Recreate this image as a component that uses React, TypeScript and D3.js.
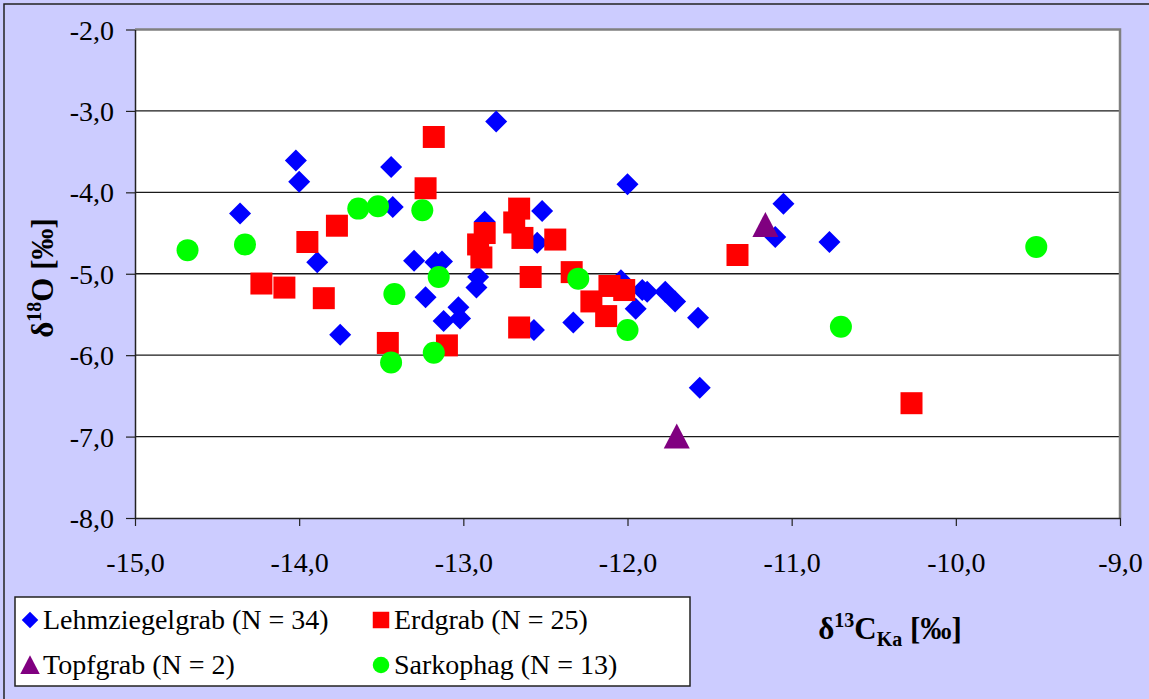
import React, { useEffect, useRef } from "react";
import * as d3 from "d3";

// δ13C (x), δ18O (y) per grave type
const lehmziegelgrab: [number, number][] = [
  [-14.36, -4.26], [-14.02, -3.61], [-14.0, -3.87], [-13.89, -4.86], [-13.75, -5.75],
  [-13.44, -3.69], [-13.43, -4.18], [-13.3, -4.84], [-13.23, -5.29], [-13.17, -4.86],
  [-13.13, -4.85], [-12.8, -3.13], [-12.0, -3.9], [-12.52, -4.23], [-12.87, -4.36],
  [-12.55, -4.62], [-12.91, -5.04], [-12.92, -5.17], [-13.03, -5.41], [-13.12, -5.58],
  [-13.02, -5.55], [-12.57, -5.69], [-12.33, -5.6], [-12.04, -5.08], [-11.95, -5.43],
  [-11.91, -5.2], [-11.88, -5.22], [-11.77, -5.22], [-11.71, -5.34], [-11.57, -5.54],
  [-11.56, -6.4], [-11.05, -4.14], [-11.1, -4.55], [-10.77, -4.61],
];
const erdgrab: [number, number][] = [
  [-13.18, -3.32], [-13.23, -3.95], [-13.77, -4.41], [-13.95, -4.61], [-14.23, -5.12],
  [-14.09, -5.17], [-13.85, -5.3], [-13.46, -5.85], [-13.1, -5.88], [-12.66, -4.2],
  [-12.69, -4.37], [-12.87, -4.5], [-12.91, -4.64], [-12.64, -4.56], [-12.44, -4.58],
  [-12.89, -4.8], [-12.59, -5.04], [-12.66, -5.66], [-12.34, -4.98], [-12.11, -5.15],
  [-12.02, -5.2], [-12.22, -5.34], [-12.13, -5.52], [-11.33, -4.77], [-10.27, -6.59],
];
const topfgrab: [number, number][] = [[-11.16, -4.4], [-11.7, -7.0]];
const sarkophag: [number, number][] = [
  [-14.68, -4.71], [-14.33, -4.64], [-13.64, -4.2], [-13.52, -4.17], [-13.25, -4.22],
  [-13.42, -5.25], [-13.44, -6.09], [-13.18, -5.97], [-13.15, -5.04], [-12.3, -5.06],
  [-12.0, -5.69], [-10.7, -5.65], [-9.51, -4.67],
];

const xTicks = [-15, -14, -13, -12, -11, -10, -9];
const yTicks = [-2, -3, -4, -5, -6, -7, -8];
const legendLabels = ["Lehmziegelgrab (N = 34)", "Erdgrab (N = 25)", "Topfgrab (N = 2)", "Sarkophag (N = 13)"];

const FONT = "'Liberation Serif', 'Times New Roman', serif";

const markerPath = (shape: string) => {
  if (shape === "diamond") return "M0,-11L11,0L0,11L-11,0Z";
  if (shape === "square") return "M-11,-11H11V11H-11Z";
  if (shape === "triangle") return "M0,-13L13,12H-13Z";
  return d3.arc()({ innerRadius: 0, outerRadius: 11, startAngle: 0, endAngle: 2 * Math.PI } as any) as string;
};

export default function App() {
  const ref = useRef<SVGSVGElement>(null);

  useEffect(() => {
    const width = 1149, height = 699;
    const margin = { top: 29.5, right: 29, bottom: 181, left: 135 };
    const svg = d3.select(ref.current);
    svg.selectAll("*").remove();

    // outer chart area
    svg.append("rect").attr("width", width).attr("height", height).attr("fill", "#CCCCFF");
    svg.append("path").attr("d", `M4,${height}V4H${width}`).attr("fill", "none").attr("stroke", "#222").attr("stroke-width", 1.5);

    const x = d3.scaleLinear().domain([-15, -9]).range([margin.left, width - margin.right]);
    const y = d3.scaleLinear().domain([-8, -2]).range([height - margin.bottom, margin.top]);

    svg.append("rect")
      .attr("x", x(-15)).attr("y", y(-2))
      .attr("width", x(-9) - x(-15)).attr("height", y(-8) - y(-2))
      .attr("fill", "white");

    // gridlines
    svg.append("g").selectAll("line").data(yTicks.filter(d => d > -8 && d < -2)).join("line")
      .attr("x1", x(-15)).attr("x2", x(-9))
      .attr("y1", d => y(d)).attr("y2", d => y(d))
      .attr("stroke", "#1a1a1a").attr("stroke-width", 1.4);

    // plot border (top/right)
    svg.append("path")
      .attr("d", `M${x(-15)},${y(-2)}H${x(-9)}V${y(-8)}`)
      .attr("fill", "none").attr("stroke", "#808080").attr("stroke-width", 2.5);

    const fmt = (d: any) => d3.format(".1f")(d).replace("−", "-").replace(".", ",");

    const xAxis = svg.append("g")
      .attr("transform", `translate(0,${y(-8)})`)
      .call(d3.axisBottom(x).tickValues(xTicks).tickSize(8).tickSizeOuter(0).tickFormat(fmt));
    xAxis.attr("font-family", null).attr("font-size", null);
    xAxis.select(".domain").attr("stroke", "#222").attr("stroke-width", 1.5);
    xAxis.selectAll(".tick line").attr("stroke", "#222").attr("stroke-width", 1.2);
    xAxis.selectAll("text")
      .attr("y", 54).attr("dy", null)
      .style("font-family", FONT).style("font-size", "28px").attr("fill", "#000");

    const yAxis = svg.append("g")
      .attr("transform", `translate(${x(-15)},0)`)
      .call(d3.axisLeft(y).tickValues(yTicks).tickSize(9).tickSizeOuter(0).tickPadding(12).tickFormat(fmt));
    yAxis.attr("font-family", null).attr("font-size", null);
    yAxis.select(".domain").attr("stroke", "#222").attr("stroke-width", 1.5);
    yAxis.selectAll(".tick line").attr("stroke", "#222").attr("stroke-width", 1.2);
    yAxis.selectAll("text")
      .attr("dy", "0.34em")
      .style("font-family", FONT).style("font-size", "28px").attr("fill", "#000");

    // series: drawn in Excel order, later on top
    const series = [
      { data: lehmziegelgrab, shape: "diamond", color: "#0000FF" },
      { data: erdgrab, shape: "square", color: "#FF0000" },
      { data: topfgrab, shape: "triangle", color: "#800080" },
      { data: sarkophag, shape: "circle", color: "#00FF00" },
    ];
    series.forEach(s => {
      svg.append("g").selectAll("path").data(s.data).join("path")
        .attr("d", markerPath(s.shape))
        .attr("transform", d => `translate(${x(d[0])},${y(d[1])})`)
        .attr("fill", s.color);
    });

    // axis titles
    const yt = svg.append("text")
      .attr("transform", `translate(53,278) rotate(-90)`)
      .attr("text-anchor", "middle")
      .style("font-family", FONT).style("font-size", "31px").style("font-weight", "bold");
    yt.append("tspan").text("δ");
    yt.append("tspan").style("font-size", "20px").attr("dy", -12).text("18");
    yt.append("tspan").attr("dy", 12).text("O [‰]");

    const xt = svg.append("text")
      .attr("x", 890).attr("y", 639)
      .attr("text-anchor", "middle")
      .style("font-family", FONT).style("font-size", "31px").style("font-weight", "bold");
    xt.append("tspan").text("δ");
    xt.append("tspan").style("font-size", "20px").attr("dy", -12).text("13");
    xt.append("tspan").attr("dy", 12).text("C");
    xt.append("tspan").style("font-size", "20px").attr("dy", 7).text("Ka");
    xt.append("tspan").attr("dy", -7).text(" [‰]");

    // legend
    const lg = svg.append("g");
    lg.append("rect").attr("x", 15).attr("y", 597).attr("width", 675).attr("height", 89)
      .attr("fill", "white").attr("stroke", "#222").attr("stroke-width", 1.5);
    const cols = [30, 381];
    const rows = [620, 665];
    series.forEach((s, i) => {
      const cx = cols[i % 2], cy = rows[Math.floor(i / 2)];
      lg.append("path").attr("d", markerPath(s.shape))
        .attr("transform", `translate(${cx},${cy}) scale(0.75)`)
        .attr("fill", s.color);
      lg.append("text").attr("x", cx + 13).attr("y", cy + 9)
        .style("font-family", FONT).style("font-size", "28px").text(legendLabels[i]);
    });
  }, []);

  return (
    <div style={{ position: "absolute", left: 0, top: 0 }}>
      <svg ref={ref} width={1149} height={699} style={{ display: "block" }} />
    </div>
  );
}
